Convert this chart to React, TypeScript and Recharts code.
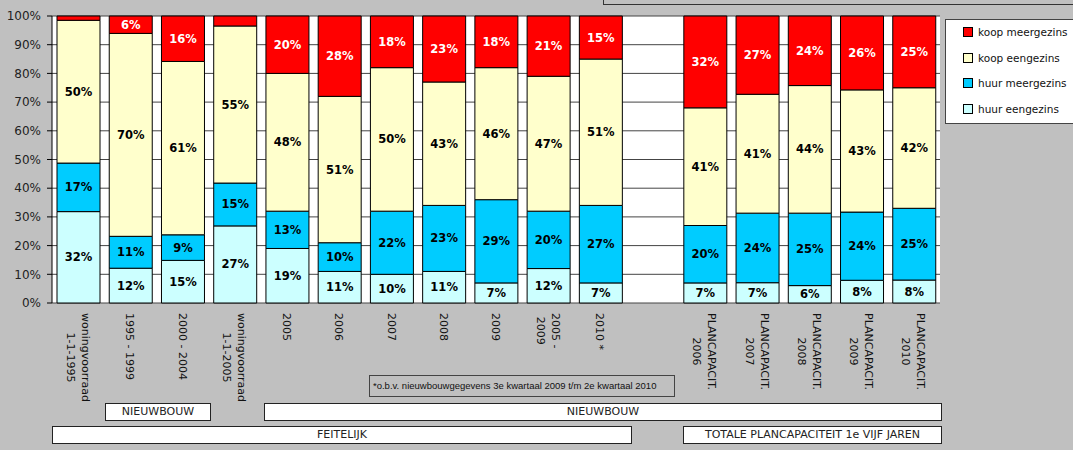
import { BarChart, Bar, XAxis, YAxis, CartesianGrid, ReferenceLine, LabelList } from "recharts";

const categories = [
  "woningvoorraad\n1-1-1995",
  "1995 - 1999",
  "2000 - 2004",
  "woningvoorraad\n1-1-2005",
  "2005",
  "2006",
  "2007",
  "2008",
  "2009",
  "2005 -\n2009",
  "2010 *",
  "",
  "PLANCAPACIT.\n2006",
  "PLANCAPACIT.\n2007",
  "PLANCAPACIT.\n2008",
  "PLANCAPACIT.\n2009",
  "PLANCAPACIT.\n2010",
];

const huurEengezins = [32, 12, 15, 27, 19, 11, 10, 11, 7, 12, 7, 0, 7, 7, 6, 8, 8];
const huurMeergezins = [17, 11, 9, 15, 13, 10, 22, 23, 29, 20, 27, 0, 20, 24, 25, 24, 25];
const koopEengezins = [50, 70, 61, 55, 48, 51, 50, 43, 46, 47, 51, 0, 41, 41, 44, 43, 42];
const koopMeergezins = [1.5, 6, 16, 3.5, 20, 28, 18, 23, 18, 21, 15, 0, 32, 27, 24, 26, 25];

const yTicks = [0, 0.1, 0.2, 0.3, 0.4, 0.5, 0.6, 0.7, 0.8, 0.9, 1];
const yMinorTicks = [0.05, 0.15, 0.25, 0.35, 0.45, 0.55, 0.65, 0.75, 0.85, 0.95];
const edgeTicks = categories.map((_, i) => i).concat(categories.length);

const series = [
  { key: "huurEengezins", name: "huur eengezins", color: "#ccffff", text: "#000" },
  { key: "huurMeergezins", name: "huur meergezins", color: "#00ccff", text: "#000" },
  { key: "koopEengezins", name: "koop eengezins", color: "#ffffcc", text: "#000" },
  { key: "koopMeergezins", name: "koop meergezins", color: "#ff0000", text: "#fff" },
];

const data = categories.map((name, i) => ({
  name,
  huurEengezins: huurEengezins[i],
  huurMeergezins: huurMeergezins[i],
  koopEengezins: koopEengezins[i],
  koopMeergezins: koopMeergezins[i],
}));

const FONT = "DejaVu Sans, sans-serif";
const TICK_SIZE = 11;

const measureCtx =
  typeof document !== "undefined" ? document.createElement("canvas").getContext("2d") : null;

function textWidth(s: string) {
  if (!measureCtx) return s.length * 6.5;
  measureCtx.font = `${TICK_SIZE}px ${FONT}`;
  return measureCtx.measureText(s).width;
}

function makeLabel(color: string) {
  return (props: any) => {
    const { x, y, width, height, value } = props;
    if (value == null || value < 5) return null;
    return (
      <text
        x={x + width / 2}
        y={y + height / 2}
        textAnchor="middle"
        dominantBaseline="central"
        fontSize={11.5}
        fontWeight="bold"
        fontFamily={FONT}
        fill={color}
      >
        {Math.round(value)}%
      </text>
    );
  };
}

// rotated category labels: block starts under the axis, lines centred on each other
function XTick({ x, y, payload }: any) {
  const lines = String(payload.value).split("\n");
  const lh = 15;
  const maxW = Math.max(...lines.map(textWidth));
  return (
    <g transform={`translate(${x},${y})`}>
      <text
        transform="rotate(90)"
        fontSize={TICK_SIZE}
        fontFamily={FONT}
        fill="#111"
        dominantBaseline="central"
        textAnchor="middle"
      >
        {lines.map((l, i) => (
          <tspan key={i} x={maxW / 2} y={(i - (lines.length - 1) / 2) * lh}>
            {l}
          </tspan>
        ))}
      </text>
    </g>
  );
}

const boxStyle: React.CSSProperties = {
  position: "absolute",
  background: "#fff",
  border: "1.5px solid #222",
  boxSizing: "border-box",
  fontFamily: FONT,
  fontSize: 11,
  color: "#222",
  textAlign: "center",
  lineHeight: "15px",
};

export default function App() {
  return (
    <div
      style={{
        position: "absolute",
        left: 0,
        top: 0,
        width: 1073,
        height: 450,
        background: "#c0c0c0",
        overflow: "hidden",
      }}
    >
      <BarChart
        width={1073}
        height={450}
        data={data}
        stackOffset="expand"
        margin={{ top: 16, right: 133, bottom: 17, left: 0 }}
      >
        <CartesianGrid xAxisId="cat" vertical={false} stroke="#444" fill="#fff" />
        <XAxis
          xAxisId="edge"
          type="number"
          domain={[0, categories.length]}
          ticks={edgeTicks}
          tick={false}
          tickSize={4}
          height={0}
          stroke="#000"
          allowDataOverflow
        />
        <XAxis
          xAxisId="cat"
          dataKey="name"
          interval={0}
          height={130}
          tickLine={false}
          axisLine={false}
          tickSize={0}
          tickMargin={10}
          tick={<XTick />}
        />
        <YAxis
          width={52}
          domain={[0, 1]}
          ticks={yTicks}
          tickFormatter={(v: number) => `${Math.round(v * 100)}%`}
          tick={{ fontSize: 12, fontFamily: FONT, fill: "#222" }}
          tickSize={5}
          tickMargin={6}
          stroke="#000"
        />
        <YAxis
          yAxisId="minor"
          mirror
          width={0}
          domain={[0, 1]}
          ticks={yMinorTicks}
          tick={false}
          tickSize={4}
          axisLine={false}
          stroke="#000"
        />
        <ReferenceLine xAxisId="edge" x={categories.length} stroke="#888" />
        {series.map((s) => (
          <Bar
            key={s.key}
            xAxisId="cat"
            dataKey={s.key}
            name={s.name}
            stackId="a"
            fill={s.color}
            stroke="#000"
            strokeWidth={1}
            barSize={43}
            isAnimationActive={false}
          >
            <LabelList dataKey={s.key} content={makeLabel(s.text)} />
          </Bar>
        ))}
      </BarChart>

      <div
        style={{
          position: "absolute",
          left: 603,
          top: -2,
          width: 480,
          height: 7,
          border: "1px solid #333",
          boxSizing: "border-box",
        }}
      />

      <div
        style={{
          position: "absolute",
          left: 945,
          top: 19,
          width: 132,
          height: 105,
          background: "#fff",
          border: "1px solid #444",
          boxSizing: "border-box",
          fontFamily: FONT,
          fontSize: 10.5,
          color: "#111",
        }}
      >
        {[...series].reverse().map((s, i) => (
          <div
            key={s.key}
            style={{ position: "absolute", left: 17, top: 6 + i * 25.7, display: "flex", alignItems: "center", whiteSpace: "nowrap" }}
          >
            <span
              style={{
                display: "inline-block",
                width: 8,
                height: 8,
                background: s.color,
                border: "1px solid #000",
                marginRight: 5,
              }}
            />
            {s.name}
          </div>
        ))}
      </div>

      <div
        style={{
          position: "absolute",
          left: 369,
          top: 375,
          width: 306,
          height: 22,
          border: "1px solid #444",
          boxSizing: "border-box",
          fontFamily: "Liberation Sans Narrow, Liberation Sans, sans-serif",
          fontSize: 9.5,
          lineHeight: "20px",
          paddingLeft: 3,
          color: "#111",
          whiteSpace: "nowrap",
        }}
      >
        *o.b.v. nieuwbouwgegevens 3e kwartaal 2009 t/m 2e kwartaal 2010
      </div>

      <div style={{ ...boxStyle, left: 105, top: 403, width: 106, height: 18 }}>NIEUWBOUW</div>
      <div style={{ ...boxStyle, left: 264, top: 403, width: 678, height: 18 }}>NIEUWBOUW</div>
      <div style={{ ...boxStyle, left: 52, top: 426, width: 580, height: 18 }}>FEITELIJK</div>
      <div style={{ ...boxStyle, left: 683, top: 426, width: 259, height: 18 }}>TOTALE PLANCAPACITEIT 1e VIJF JAREN</div>
    </div>
  );
}
